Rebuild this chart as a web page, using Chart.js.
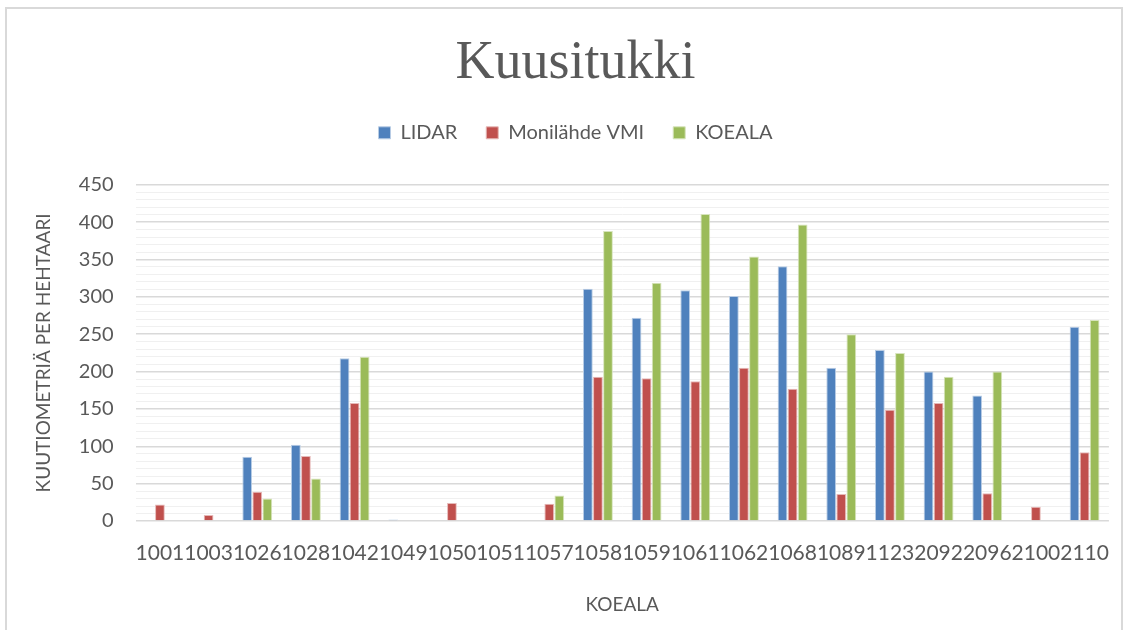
<!DOCTYPE html>
<html>
<head>
<meta charset="utf-8">
<script src="https://cdn.jsdelivr.net/npm/chart.js@4/dist/chart.umd.min.js"></script>
<style>
  body { margin: 0; background: #fff; }
  .frame {
    position: absolute; left: 5px; top: 7px;
    width: 1118px; height: 630px;
    border: 2px solid #d9d9d9; box-sizing: border-box;
  }
</style>
</head>
<body>
<div class="frame"><canvas id="barChart"></canvas></div>
<script>
// koealat
const categories = ["1001", "1003", "1026", "1028", "1042", "1049", "1050", "1051", "1057", "1058",
                    "1059", "1061", "1062", "1068", "1089", "1123", "2092", "2096", "2100", "2110"];

// m3/ha per koeala
const lidar   = [0, 0, 86, 102, 218, 2, 0, 0, 0, 311, 272, 309, 301, 341, 205, 229, 200, 168, 0, 260];
const vmi     = [22, 8, 39, 87, 158, 0, 24, 1, 23, 193, 191, 187, 205, 177, 36, 149, 158, 37, 19, 92];
const koeala  = [0, 0, 30, 57, 220, 0, 0, 0, 34, 388, 319, 411, 354, 397, 250, 225, 193, 200, 0, 269];

const yTicks = [0, 50, 100, 150, 200, 250, 300, 350, 400, 450];

const grey = '#595959';
const font = 'Lato';

// a bit more room under the legend, like excel
const legendGap = {
  id: 'legendGap',
  beforeInit(chart) {
    const fit = chart.legend.fit;
    chart.legend.fit = function () {
      fit.bind(chart.legend)();
      this.height += 32;
    };
  }
};

var ctx = document.getElementById("barChart").getContext('2d');
var myChart = new Chart(ctx, {
  type: 'bar',
  data: {
    labels: categories,
    datasets: [{
      label: "LIDAR",
      data: lidar,
      backgroundColor: '#4F81BD',
      borderColor: '#b9cde5',
      borderWidth: 1
    },
    {
      label: "Monilähde VMI",
      data: vmi,
      backgroundColor: '#C0504D',
      borderColor: '#e6b9b8',
      borderWidth: 1
    },
    {
      label: "KOEALA",
      data: koeala,
      backgroundColor: '#9BBB59',
      borderColor: '#d7e4bd',
      borderWidth: 1
    }]
  },
  options: {
    responsive: true,
    maintainAspectRatio: false,
    animation: false,
    layout: { padding: { left: 25, right: 2, top: 0, bottom: 19 } },
    datasets: {
      bar: { categoryPercentage: 0.62, barPercentage: 0.97 }
    },
    plugins: {
      title: {
        display: true,
        text: 'Kuusitukki',
        color: grey,
        font: { family: 'Liberation Serif', size: 54, weight: 'normal' },
        padding: { top: 22, bottom: -2 }
      },
      legend: {
        position: 'top',
        labels: {
          color: grey,
          font: { family: font, size: 20 },
          boxWidth: 12,
          boxHeight: 12,
          padding: 29,
          useBorderRadius: false
        }
      },
      tooltip: { enabled: false }
    },
    scales: {
      x: {
        grid: { display: false },
        border: { display: false },
        ticks: {
          color: grey,
          font: { family: font, size: 21 },
          autoSkip: false,
          maxRotation: 0,
          minRotation: 0,
          padding: 12
        },
        title: {
          display: true,
          text: 'KOEALA',
          color: grey,
          font: { family: font, size: 19 },
          padding: { top: 15, bottom: 0 }
        }
      },
      y: {
        min: 0,
        max: 450,
        border: { display: false },
        grid: {
          drawTicks: false,
          color: (c) => yTicks.includes(c.tick.value) ? '#d9d9d9' : '#f0f0f0',
          lineWidth: (c) => yTicks.includes(c.tick.value) ? 1.5 : 1
        },
        ticks: {
          stepSize: 10,
          autoSkip: false,
          color: grey,
          font: { family: font, size: 20 },
          padding: 22,
          callback: (v) => yTicks.includes(v) ? v : ''
        },
        title: {
          display: true,
          text: 'KUUTIOMETRIÄ PER HEHTAARI',
          color: grey,
          font: { family: font, size: 19 },
          padding: { top: 0, bottom: 2 }
        }
      }
    }
  },
  plugins: [legendGap]
});
</script>
</body>
</html>
